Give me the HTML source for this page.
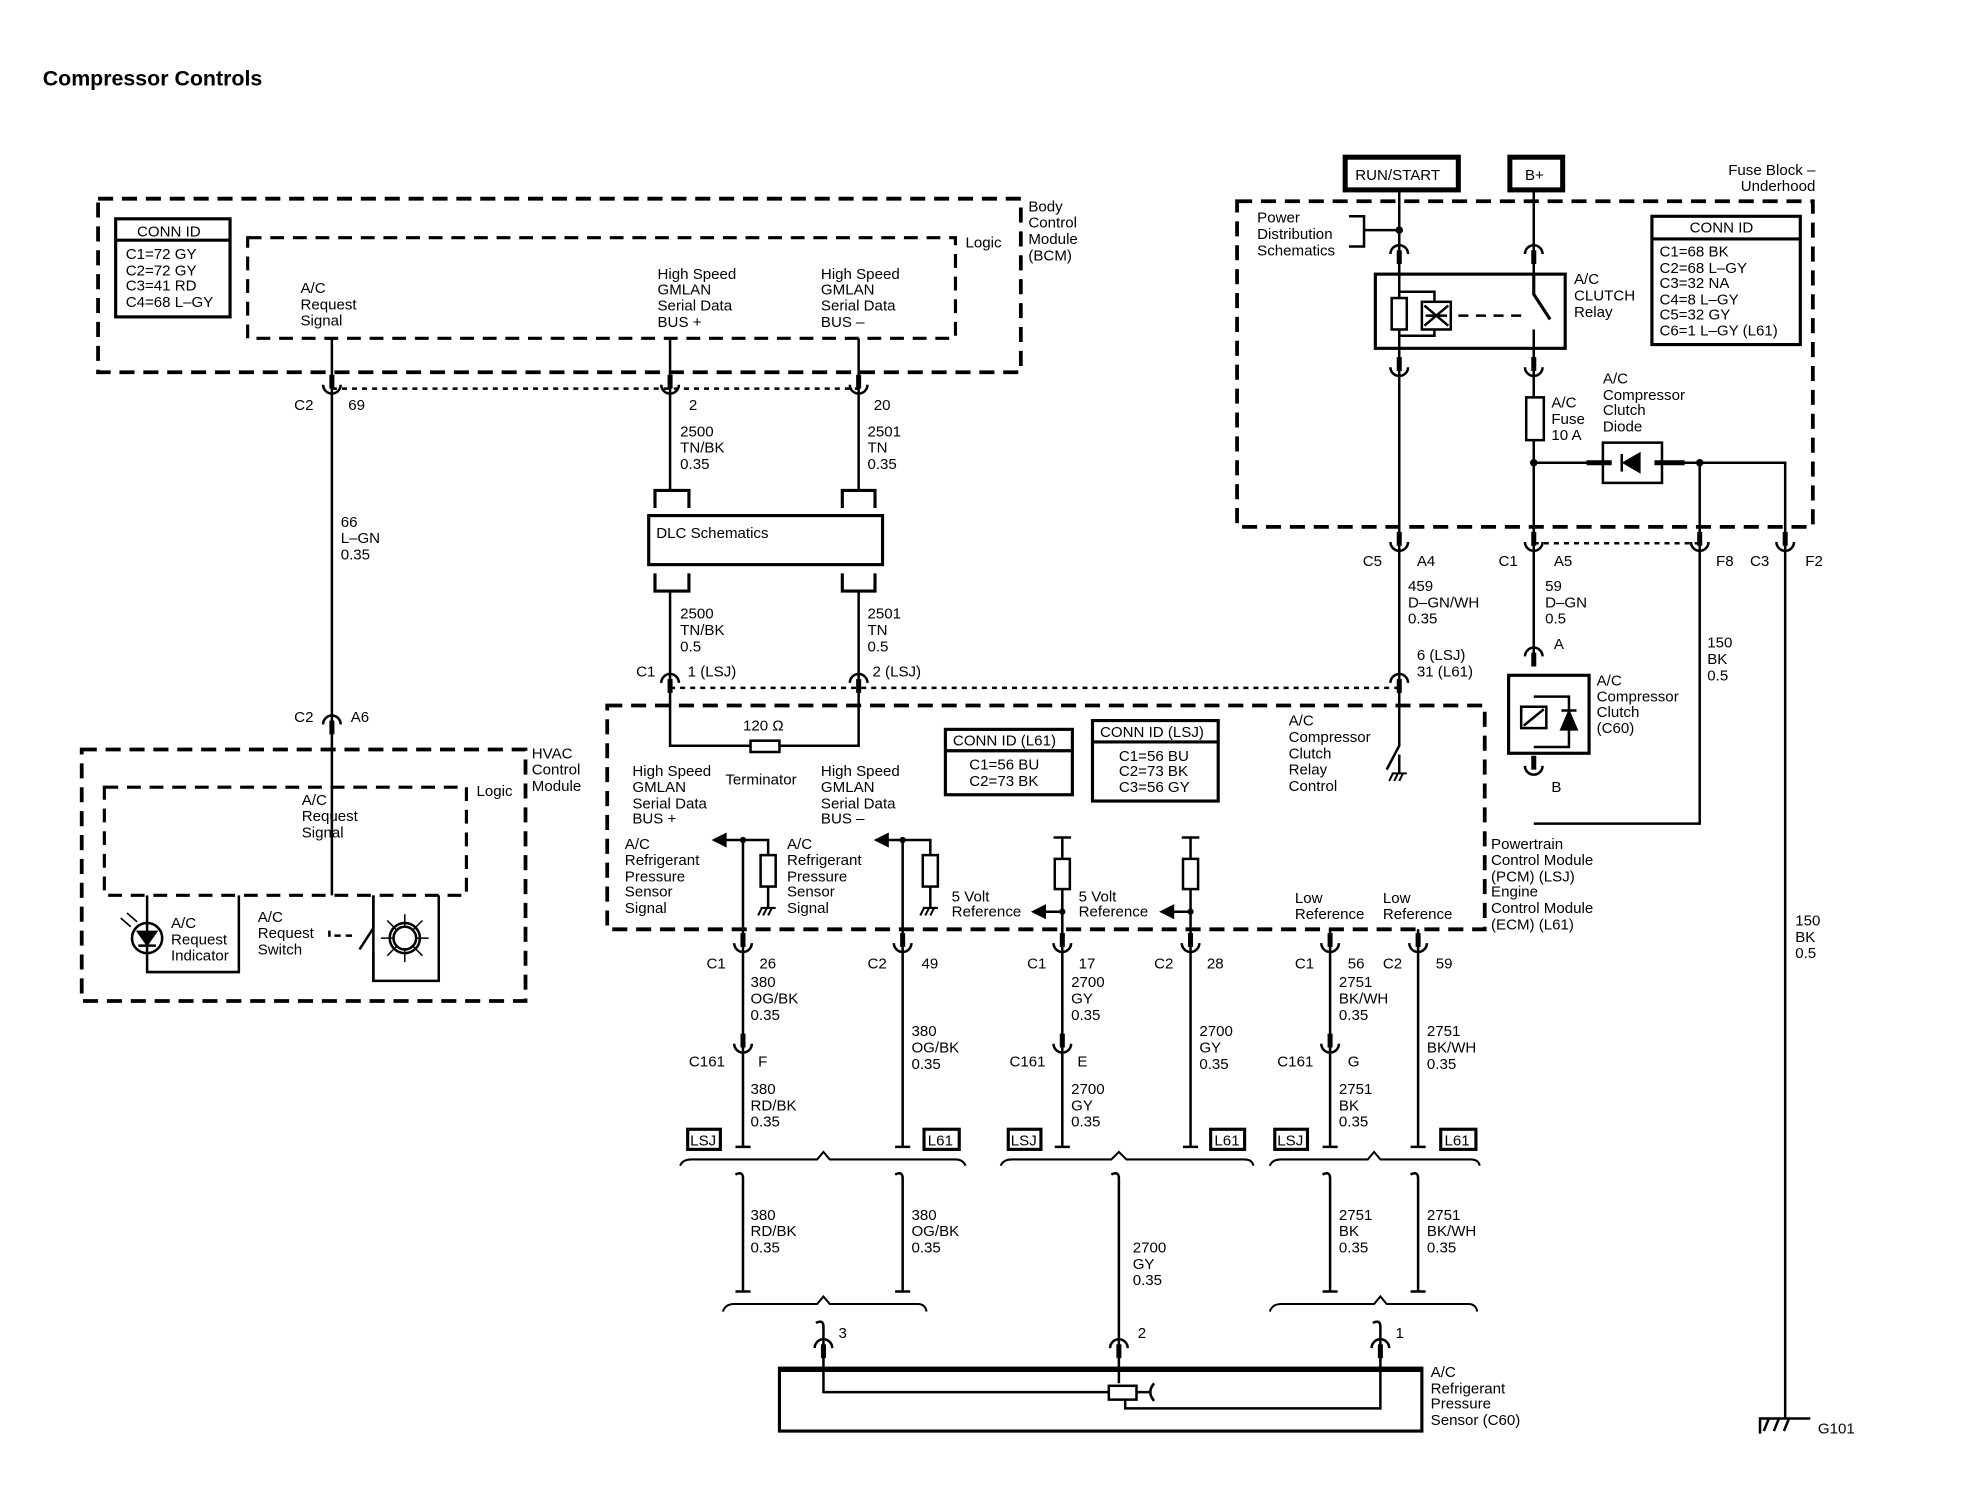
<!DOCTYPE html>
<html><head><meta charset="utf-8"><style>
html,body{margin:0;padding:0;background:#fff;}
svg{display:block;}
text{font-family:"Liberation Sans",sans-serif;font-size:12px;fill:#000;}
</style></head><body>
<svg width="1970" height="1504" viewBox="0 0 1567 1196" preserveAspectRatio="none" xmlns="http://www.w3.org/2000/svg">
<defs>
<g id="cf" fill="none" stroke="#000"><path d="M0 -14V-3" stroke-width="4"/><path d="M-7 -6A7 7 0 0 0 7 -6" stroke-width="2"/></g>
<g id="cm" fill="none" stroke="#000"><path d="M0 3V14" stroke-width="4"/><path d="M-7 6A7 7 0 0 1 7 6" stroke-width="2"/></g>
<g id="gnd" stroke="#000" stroke-width="1.6"><path d="M-6 0H6M-5 0L-8 6M-1 0L-4 6M3 0L0 6"/></g>
</defs>
<g stroke="#000" fill="none" stroke-width="2">
<rect x="78" y="158" width="734" height="138" stroke-width="3" stroke-dasharray="12 7"/>
<rect x="197" y="189" width="563" height="80" stroke-width="2.5" stroke-dasharray="11 7"/>
<rect x="92" y="174" width="91" height="78" stroke-width="2.5"/><path d="M92 191H183" stroke-width="2.5"/>
<path d="M264 269V712"/><path d="M533 269V390M683 269V390"/>
<path d="M264 309H683" stroke-dasharray="4 4"/>
<path d="M521 404V390H548V404M670 404V390H696V404" stroke-width="2.5"/>
<rect x="516" y="410" width="186" height="39" stroke-width="2.5"/>
<path d="M521 456V470H548V456M670 456V470H696V456" stroke-width="2.5"/>
<path d="M533 470V593H683V470"/>
<rect x="597" y="589" width="23" height="9" fill="#fff"/>
<path d="M533 547H1113" stroke-dasharray="4 4"/>
<rect x="65" y="596" width="353" height="200" stroke-width="3" stroke-dasharray="12 7"/>
<rect x="83" y="626" width="288" height="86" stroke-width="2.5" stroke-dasharray="11 7"/>
<path d="M117 712V773H190V712"/>
<circle cx="117" cy="746" r="12"/>
<path d="M110 741H124L117 751ZM110 752H124" fill="#000"/>
<path d="M109 733L101 726M104 737L96 730" stroke-width="1.3"/>
<path d="M297 712V780H349V712"/>
<path d="M297 712V738L286 755M297 757V780"/>
<path d="M262 740V748M266 744H284" stroke-dasharray="5 4"/>
<circle cx="322" cy="746" r="12"/>
<path d="M303 746H341M322 727V765M308 732L336 760M336 732L308 760" stroke-width="1.2"/>
<circle cx="322" cy="746" r="9" fill="#fff"/>
<rect x="483" y="561" width="698" height="178" stroke-width="3" stroke-dasharray="12 7"/>
<rect x="752" y="580" width="101" height="52" stroke-width="2.5"/><path d="M752 597H853" stroke-width="2.5"/>
<rect x="869" y="573" width="100" height="64" stroke-width="2.5"/><path d="M869 590H969" stroke-width="2.5"/>
<path d="M1113 547V593L1103 612"/><path d="M1113 600V615"/>
<path d="M591 668V912M718 668V912M845 666V912M947 666V912M1058 739V912M1128 739V912"/>
<path d="M576 668H611V680M703 668H740V680"/>
<rect x="605" y="680" width="12" height="25" fill="#fff"/><rect x="734" y="680" width="12" height="25" fill="#fff"/>
<path d="M611 705V722M740 705V722"/>
<path d="M838 666H852M940 666H954"/>
<rect x="839" y="683" width="12" height="24" fill="#fff"/><rect x="941" y="683" width="12" height="24" fill="#fff"/>
<path d="M830 725H845M932 725H947"/>
<path d="M585 912H597M712 912H724M839 912H851M941 912H953M1052 912H1064M1122 912H1134"/>
<rect x="547" y="898" width="26" height="16" stroke-width="2.5"/><rect x="735" y="898" width="28" height="16" stroke-width="2.5"/>
<rect x="802" y="898" width="26" height="16" stroke-width="2.5"/><rect x="963" y="898" width="27" height="16" stroke-width="2.5"/>
<rect x="1014" y="898" width="26" height="16" stroke-width="2.5"/><rect x="1146" y="898" width="28" height="16" stroke-width="2.5"/>
<path d="M541 927Q543 922 550 922H650L655 916L660 922H760Q766 922 768 927" stroke-width="1.6"/>
<path d="M796 927Q798 922 805 922H884L890 916L896 922H990Q996 922 997 927" stroke-width="1.6"/>
<path d="M1010 927Q1012 922 1019 922H1088L1093 916L1098 922H1170Q1176 922 1177 927" stroke-width="1.6"/>
<path d="M575 1043Q577 1037 584 1037H650L655 1031L660 1037H730Q736 1037 737 1043" stroke-width="1.6"/>
<path d="M1010 1043Q1012 1037 1019 1037H1093L1098 1031L1103 1037H1168Q1174 1037 1175 1043" stroke-width="1.6"/>
<path d="M585 934Q591 931 591 937V1027M712 934Q718 931 718 937V1027M884 934Q890 931 890 937V1100M1052 934Q1058 931 1058 937V1027M1122 934Q1128 931 1128 937V1027"/>
<path d="M585 1027H597M712 1027H724M1052 1027H1064M1122 1027H1134"/>
<path d="M649 1052Q655 1049 655 1055V1107H885M1092 1052Q1098 1049 1098 1055V1120H895V1113"/>
<rect x="620" y="1088" width="511" height="50" stroke-width="2.5"/><path d="M620 1089H1131" stroke-width="4"/>
<rect x="882" y="1102" width="22" height="11" fill="#fff"/>
<path d="M904 1107H914M918 1100Q912 1107 918 1114"/>
<rect x="1070" y="125" width="90" height="26" stroke-width="4"/>
<rect x="1201" y="125" width="42" height="26" stroke-width="4"/>
<rect x="984" y="160" width="458" height="259" stroke-width="3" stroke-dasharray="12 7"/>
<path d="M1113 151V547M1220 151V218M1220 262V520"/>
<path d="M1073 172H1085V196H1073M1085 183H1113"/>
<rect x="1094" y="218" width="151" height="59" stroke-width="2.5"/>
<rect x="1107" y="237" width="12" height="25" fill="#fff"/>
<path d="M1113 232H1141V267H1113"/>
<rect x="1131" y="240" width="23" height="22" fill="#fff"/><path d="M1133 243L1152 259M1152 243L1133 259M1134 251H1151"/>
<path d="M1160 251H1214" stroke-dasharray="8 6"/>
<rect x="1214" y="316" width="14" height="34" fill="#fff"/>
<path d="M1220 368H1420V1128M1352 368V655H1220"/>
<rect x="1275" y="352" width="47" height="32" fill="#fff"/>
<path d="M1262 368H1282M1316 368H1340" stroke-width="4"/>
<path d="M1292 368L1304 361V375Z" fill="#000"/><path d="M1290 361V375"/>
<rect x="1314" y="172" width="118" height="102" stroke-width="2.5"/><path d="M1314 190H1432" stroke-width="2.5"/>
<path d="M1220 432H1352" stroke-dasharray="4 4"/>
<rect x="1200" y="537" width="64" height="62" stroke-width="2.5"/>
<path d="M1220 554H1248V594H1220"/>
<rect x="1210" y="562" width="20" height="17" fill="#fff"/><path d="M1212 577L1228 564"/>
<path d="M1242 580L1248 566L1254 580Z" fill="#000"/><path d="M1242 565H1254"/>
<path d="M1400 1140V1128H1440M1407 1128L1403 1138M1415 1128L1411 1138M1423 1128L1419 1138" stroke-width="2"/>
</g>
<path d="M1220 218V234L1233 254" stroke="#000" stroke-width="2.5" fill="none"/>
<circle cx="1113" cy="183" r="3"/><circle cx="1220" cy="368" r="3"/><circle cx="1352" cy="368" r="3"/>
<circle cx="591" cy="668" r="2.5"/><circle cx="718" cy="668" r="2.5"/><circle cx="845" cy="725" r="2.5"/><circle cx="947" cy="725" r="2.5"/>
<path d="M566 668L578 662V674Z M695 668L707 662V674Z M820 725L832 719V731Z M922 725L934 719V731Z"/>
<use href="#gnd" x="611" y="722"/><use href="#gnd" x="740" y="722"/><use href="#gnd" x="1113" y="615"/>
<use href="#cf" x="264" y="312"/><use href="#cf" x="533" y="312"/><use href="#cf" x="683" y="312"/>
<use href="#cm" x="264" y="570"/><use href="#cm" x="533" y="537"/><use href="#cm" x="683" y="537"/><use href="#cm" x="1113" y="537"/>
<use href="#cf" x="591" y="756"/><use href="#cf" x="718" y="756"/><use href="#cf" x="845" y="756"/><use href="#cf" x="947" y="756"/><use href="#cf" x="1058" y="756"/><use href="#cf" x="1128" y="756"/>
<use href="#cf" x="591" y="836"/><use href="#cf" x="845" y="836"/><use href="#cf" x="1058" y="836"/>
<use href="#cm" x="655" y="1066"/><use href="#cm" x="890" y="1066"/><use href="#cm" x="1098" y="1066"/>
<use href="#cm" x="1113" y="196"/><use href="#cm" x="1220" y="196"/>
<use href="#cf" x="1113" y="298"/><use href="#cf" x="1220" y="298"/>
<use href="#cf" x="1113" y="437"/><use href="#cf" x="1220" y="437"/><use href="#cf" x="1352" y="437"/><use href="#cf" x="1420" y="437"/>
<use href="#cm" x="1220" y="516"/><use href="#cf" x="1220" y="615"/>
<text x="34" y="68" style="font-size:17px;font-weight:bold">Compressor Controls</text>
<g>
<text x="818" y="168">Body</text><text x="818" y="181">Control</text><text x="818" y="194">Module</text><text x="818" y="207">(BCM)</text>
<text x="109" y="188">CONN ID</text>
<text x="100" y="206">C1=72 GY</text><text x="100" y="219">C2=72 GY</text><text x="100" y="231">C3=41 RD</text><text x="100" y="244">C4=68 L–GY</text>
<text x="768" y="197">Logic</text>
<text x="239" y="233">A/C</text><text x="239" y="246">Request</text><text x="239" y="259">Signal</text>
<text x="523" y="222">High Speed</text><text x="523" y="234">GMLAN</text><text x="523" y="247">Serial Data</text><text x="523" y="260">BUS +</text>
<text x="653" y="222">High Speed</text><text x="653" y="234">GMLAN</text><text x="653" y="247">Serial Data</text><text x="653" y="260">BUS –</text>
<text x="234" y="326">C2</text><text x="277" y="326">69</text><text x="548" y="326">2</text><text x="695" y="326">20</text>
<text x="541" y="347">2500</text><text x="541" y="360">TN/BK</text><text x="541" y="373">0.35</text>
<text x="690" y="347">2501</text><text x="690" y="360">TN</text><text x="690" y="373">0.35</text>
<text x="522" y="428">DLC Schematics</text>
<text x="541" y="492">2500</text><text x="541" y="505">TN/BK</text><text x="541" y="518">0.5</text>
<text x="690" y="492">2501</text><text x="690" y="505">TN</text><text x="690" y="518">0.5</text>
<text x="506" y="538">C1</text><text x="547" y="538">1 (LSJ)</text><text x="694" y="538">2 (LSJ)</text>
<text x="271" y="419">66</text><text x="271" y="432">L–GN</text><text x="271" y="445">0.35</text>
<text x="234" y="574">C2</text><text x="279" y="574">A6</text>
<text x="423" y="603">HVAC</text><text x="423" y="616">Control</text><text x="423" y="629">Module</text>
<text x="379" y="633">Logic</text>
<text x="240" y="640">A/C</text><text x="240" y="653">Request</text><text x="240" y="666">Signal</text>
<text x="136" y="738">A/C</text><text x="136" y="751">Request</text><text x="136" y="764">Indicator</text>
<text x="205" y="733">A/C</text><text x="205" y="746">Request</text><text x="205" y="759">Switch</text>
<text x="591" y="581">120 Ω</text><text x="577" y="624">Terminator</text>
<text x="503" y="617">High Speed</text><text x="503" y="630">GMLAN</text><text x="503" y="643">Serial Data</text><text x="503" y="655">BUS +</text>
<text x="653" y="617">High Speed</text><text x="653" y="630">GMLAN</text><text x="653" y="643">Serial Data</text><text x="653" y="655">BUS –</text>
<text x="758" y="593">CONN ID (L61)</text><text x="771" y="612">C1=56 BU</text><text x="771" y="625">C2=73 BK</text>
<text x="875" y="586">CONN ID (LSJ)</text><text x="890" y="605">C1=56 BU</text><text x="890" y="617">C2=73 BK</text><text x="890" y="630">C3=56 GY</text>
<text x="1025" y="577">A/C</text><text x="1025" y="590">Compressor</text><text x="1025" y="603">Clutch</text><text x="1025" y="616">Relay</text><text x="1025" y="629">Control</text>
<text x="497" y="675">A/C</text><text x="497" y="688">Refrigerant</text><text x="497" y="701">Pressure</text><text x="497" y="713">Sensor</text><text x="497" y="726">Signal</text>
<text x="626" y="675">A/C</text><text x="626" y="688">Refrigerant</text><text x="626" y="701">Pressure</text><text x="626" y="713">Sensor</text><text x="626" y="726">Signal</text>
<text x="757" y="717">5 Volt</text><text x="757" y="729">Reference</text>
<text x="858" y="717">5 Volt</text><text x="858" y="729">Reference</text>
<text x="1030" y="718">Low</text><text x="1030" y="731">Reference</text>
<text x="1100" y="718">Low</text><text x="1100" y="731">Reference</text>
<text x="1186" y="675">Powertrain</text><text x="1186" y="688">Control Module</text><text x="1186" y="701">(PCM) (LSJ)</text><text x="1186" y="713">Engine</text><text x="1186" y="726">Control Module</text><text x="1186" y="739">(ECM) (L61)</text>
<text x="562" y="770">C1</text><text x="604" y="770">26</text><text x="690" y="770">C2</text><text x="733" y="770">49</text>
<text x="817" y="770">C1</text><text x="858" y="770">17</text><text x="918" y="770">C2</text><text x="960" y="770">28</text>
<text x="1030" y="770">C1</text><text x="1072" y="770">56</text><text x="1100" y="770">C2</text><text x="1142" y="770">59</text>
<text x="597" y="785">380</text><text x="597" y="798">OG/BK</text><text x="597" y="811">0.35</text>
<text x="725" y="824">380</text><text x="725" y="837">OG/BK</text><text x="725" y="850">0.35</text>
<text x="852" y="785">2700</text><text x="852" y="798">GY</text><text x="852" y="811">0.35</text>
<text x="954" y="824">2700</text><text x="954" y="837">GY</text><text x="954" y="850">0.35</text>
<text x="1065" y="785">2751</text><text x="1065" y="798">BK/WH</text><text x="1065" y="811">0.35</text>
<text x="1135" y="824">2751</text><text x="1135" y="837">BK/WH</text><text x="1135" y="850">0.35</text>
<text x="548" y="848">C161</text><text x="603" y="848">F</text><text x="803" y="848">C161</text><text x="857" y="848">E</text><text x="1016" y="848">C161</text><text x="1072" y="848">G</text>
<text x="597" y="870">380</text><text x="597" y="883">RD/BK</text><text x="597" y="896">0.35</text>
<text x="852" y="870">2700</text><text x="852" y="883">GY</text><text x="852" y="896">0.35</text>
<text x="1065" y="870">2751</text><text x="1065" y="883">BK</text><text x="1065" y="896">0.35</text>
<text x="549" y="911">LSJ</text><text x="738" y="911">L61</text><text x="804" y="911">LSJ</text><text x="966" y="911">L61</text><text x="1016" y="911">LSJ</text><text x="1149" y="911">L61</text>
<text x="597" y="970">380</text><text x="597" y="983">RD/BK</text><text x="597" y="996">0.35</text>
<text x="725" y="970">380</text><text x="725" y="983">OG/BK</text><text x="725" y="996">0.35</text>
<text x="901" y="996">2700</text><text x="901" y="1009">GY</text><text x="901" y="1022">0.35</text>
<text x="1065" y="970">2751</text><text x="1065" y="983">BK</text><text x="1065" y="996">0.35</text>
<text x="1135" y="970">2751</text><text x="1135" y="983">BK/WH</text><text x="1135" y="996">0.35</text>
<text x="667" y="1064">3</text><text x="905" y="1064">2</text><text x="1110" y="1064">1</text>
<text x="1138" y="1095">A/C</text><text x="1138" y="1108">Refrigerant</text><text x="1138" y="1120">Pressure</text><text x="1138" y="1133">Sensor (C60)</text>
<text x="1078" y="143">RUN/START</text><text x="1213" y="143">B+</text>
<text x="1444" y="139" text-anchor="end">Fuse Block –</text><text x="1444" y="152" text-anchor="end">Underhood</text>
<text x="1000" y="177">Power</text><text x="1000" y="190">Distribution</text><text x="1000" y="203">Schematics</text>
<text x="1252" y="226">A/C</text><text x="1252" y="239">CLUTCH</text><text x="1252" y="252">Relay</text>
<text x="1234" y="324">A/C</text><text x="1234" y="337">Fuse</text><text x="1234" y="350">10 A</text>
<text x="1275" y="305">A/C</text><text x="1275" y="318">Compressor</text><text x="1275" y="330">Clutch</text><text x="1275" y="343">Diode</text>
<text x="1344" y="185">CONN ID</text>
<text x="1320" y="204">C1=68 BK</text><text x="1320" y="217">C2=68 L–GY</text><text x="1320" y="229">C3=32 NA</text><text x="1320" y="242">C4=8 L–GY</text><text x="1320" y="254">C5=32 GY</text><text x="1320" y="267">C6=1 L–GY (L61)</text>
<text x="1084" y="450">C5</text><text x="1127" y="450">A4</text><text x="1192" y="450">C1</text><text x="1236" y="450">A5</text><text x="1365" y="450">F8</text><text x="1392" y="450">C3</text><text x="1436" y="450">F2</text>
<text x="1120" y="470">459</text><text x="1120" y="483">D–GN/WH</text><text x="1120" y="496">0.35</text>
<text x="1229" y="470">59</text><text x="1229" y="483">D–GN</text><text x="1229" y="496">0.5</text>
<text x="1127" y="525">6 (LSJ)</text><text x="1127" y="538">31 (L61)</text>
<text x="1236" y="516">A</text><text x="1234" y="630">B</text>
<text x="1270" y="545">A/C</text><text x="1270" y="558">Compressor</text><text x="1270" y="570">Clutch</text><text x="1270" y="583">(C60)</text>
<text x="1358" y="515">150</text><text x="1358" y="528">BK</text><text x="1358" y="541">0.5</text>
<text x="1428" y="736">150</text><text x="1428" y="749">BK</text><text x="1428" y="762">0.5</text>
<text x="1446" y="1140">G101</text>
</g>
</svg>
</body></html>
